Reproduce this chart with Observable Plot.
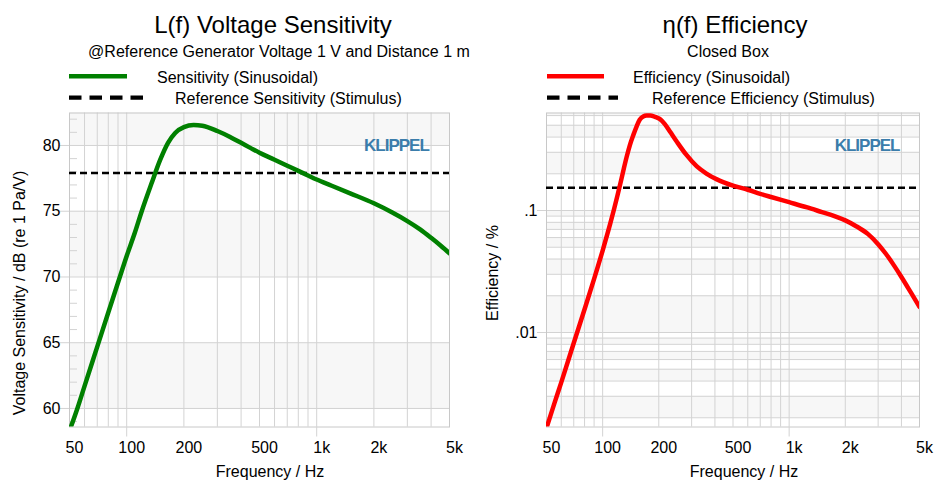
<!DOCTYPE html>
<html><head><meta charset="utf-8">
<script src="https://cdn.jsdelivr.net/npm/d3@7"></script>
<script src="https://cdn.jsdelivr.net/npm/@observablehq/plot@0.6"></script>
<style>
body{margin:0;background:#fff;font-family:"Liberation Sans",Arial,sans-serif;color:#000}
#root{position:relative;width:936px;height:482px;overflow:hidden}
#root svg.plot{position:absolute;top:100px}
#overlay{position:absolute;left:0;top:0;pointer-events:none}
</style></head><body><div id="root"></div>
<script>
// ---- data ----
const xDomain = [50, 5000];
const xTicks = [50, 100, 200, 500, 1000, 2000, 5000];
const xTickLabels = ["50", "100", "200", "500", "1k", "2k", "5k"];
const xDecades = [100, 1000];
const xGrid = [60,70,80,90,100,200,300,400,500,600,700,800,900,1000,2000,3000,4000];

const sensFreq = [50,55,60,70,80,92,100,110,120,135,150,165,180,200,225,250,300,350,400,450,500,600,700,800,900,1000,1200,1500,2000,2500,3000,3500,4000,4500,5000];
const sensValues = [58.3,60.0,61.7,64.7,67.3,70.0,71.6,73.3,75.0,77.1,78.9,80.2,80.95,81.4,81.55,81.5,81.1,80.65,80.2,79.8,79.45,78.92,78.46,78.07,77.72,77.41,76.94,76.36,75.6,74.9,74.25,73.62,72.98,72.38,71.8];
const sensRef = 77.9;
const sensDomain = [58.59, 82.47];
const sensMajor = [60, 65, 70, 75, 80];
const sensMinor = [59,61,62,63,64,66,67,68,69,71,72,73,74,76,77,78,79,81,82];
const sensBandLo = [80, 70, 60];
const sensBandHi = [82.47, 75, 65];

const effFreq = [50,55,60,70,80,90,100,110,115,120,125,130,135,140,146,152,158,165,172,180,188,195,203,215,230,250,280,320,360,410,500,600,700,800,1000,1250,1500,1750,2000,2300,2650,3000,3300,3670,4000,4500,5000];
const effValues = [0.00165,0.0026,0.0039,0.0082,0.0155,0.0275,0.047,0.0787,0.102,0.132,0.171,0.222,0.281,0.344,0.415,0.488,0.554,0.590,0.600,0.600,0.592,0.579,0.562,0.513,0.442,0.366,0.288,0.230,0.201,0.180,0.160,0.148,0.137,0.129,0.117,0.106,0.097,0.090,0.083,0.074,0.064,0.053,0.0442,0.035,0.0285,0.0212,0.0162];
const effRef = 0.154;
const effDomain = [0.00168, 0.63];
const effTicks = [0.01, 0.1];
const effTickLabels = [".01", ".1"];
const effGrid = [0.002,0.003,0.004,0.005,0.006,0.007,0.008,0.009,0.01,0.02,0.03,0.04,0.05,0.06,0.07,0.08,0.09,0.1,0.2,0.3,0.4,0.5,0.6];
const effBandLo = [0.6,0.4,0.2,0.09,0.07,0.05,0.03,0.01,0.008,0.006,0.004,0.002];
const effBandHi = [0.63,0.5,0.3,0.1,0.08,0.06,0.04,0.02,0.009,0.007,0.005,0.003];

// ---- style ----
const font = '"Liberation Sans", Arial, sans-serif';
const gridColor = "#d3d3d3";
const frameColor = "#c8c8c8";
const bandColor = "#f7f7f7";
const logoColor = "#3b7dab";

function makePlot({marginLeft, marginRight, yOpts, bandLo, bandHi, yGrid, minor, yTicks, yFmt, ref, data, color, logoDx}) {
  const bands = bandLo.map((lo, i) => ({lo, hi: bandHi[i]}));
  const marks = [
    Plot.rect(bands, {x1: () => xDomain[0], x2: () => xDomain[1], y1: "lo", y2: "hi", fill: bandColor}),
    Plot.ruleX(xGrid, {stroke: gridColor}),
    Plot.ruleY(yGrid, {stroke: gridColor}),
  ];
  if (minor) marks.push(Plot.axisY(minor, {tickSize: 8, dx: 8, tickFormat: () => "", stroke: gridColor}));
  marks.push(
    Plot.frame({stroke: frameColor}),
    Plot.axisY(yTicks, {tickSize: 9, tickPadding: 0, stroke: gridColor, fill: "#000", fontSize: 16, tickFormat: yFmt}),
    Plot.axisX(xDecades, {tickSize: 10, tickFormat: () => "", stroke: gridColor}),
    Plot.text(xTicks, {x: d => d, text: (d, i) => xTickLabels[i], frameAnchor: "bottom", lineAnchor: "top", dy: 15, dx: 5, fontSize: 16, fill: "#000"}),
    Plot.ruleY([ref], {stroke: "#000", strokeWidth: 2.5, strokeDasharray: "7,4"}),
    Plot.line(data, {x: "f", y: "v", stroke: color, strokeWidth: 4.5, curve: "monotone-x", clip: true}),
    Plot.text(["KLIPPEL"], {frameAnchor: "top-right", textAnchor: "end", dx: logoDx, dy: 26, fill: logoColor, fontSize: 17, fontWeight: "bold"})
  );
  const svg = Plot.plot({
    width: 468, height: 382,
    marginTop: 12.5, marginBottom: 55.5, marginLeft, marginRight,
    style: {fontFamily: font, fontSize: "16px", color: "#000", background: "transparent"},
    x: {type: "log", domain: xDomain, label: null},
    y: {...yOpts, label: null},
    marks
  });
  svg.classList.add("plot");
  svg.querySelectorAll("text").forEach(t => { if (t.textContent === "KLIPPEL") t.setAttribute("letter-spacing", "-1"); });
  return svg;
}

const root = document.getElementById("root");

const left = makePlot({
  marginLeft: 69, marginRight: 19,
  yOpts: {domain: sensDomain},
  bandLo: sensBandLo, bandHi: sensBandHi,
  yGrid: sensMajor, minor: sensMinor, yTicks: sensMajor, yFmt: d => String(d),
  ref: sensRef,
  data: sensFreq.map((f, i) => ({f, v: sensValues[i]})),
  color: "#008000", logoDx: -20.7
});
left.style.left = "0px";
root.appendChild(left);

const right = makePlot({
  marginLeft: 78, marginRight: 17,
  yOpts: {type: "log", domain: effDomain},
  bandLo: effBandLo, bandHi: effBandHi,
  yGrid: effGrid, minor: null, yTicks: effTicks, yFmt: d => effTickLabels[effTicks.indexOf(d)],
  ref: effRef,
  data: effFreq.map((f, i) => ({f, v: effValues[i]})),
  color: "#ff0000", logoDx: -20
});
right.style.left = "468px";
root.appendChild(right);

// ---- titles, legends, axis labels ----
const NS = "http://www.w3.org/2000/svg";
const ov = document.createElementNS(NS, "svg");
ov.setAttribute("id", "overlay");
ov.setAttribute("width", 936); ov.setAttribute("height", 482);
ov.setAttribute("font-family", font);
root.appendChild(ov);
function txt(s, x, y, size, anchor = "start", rot = 0) {
  const t = document.createElementNS(NS, "text");
  t.textContent = s;
  t.setAttribute("x", x); t.setAttribute("y", y);
  t.setAttribute("font-size", size);
  t.setAttribute("text-anchor", anchor);
  t.setAttribute("fill", "#000");
  if (rot) t.setAttribute("transform", `rotate(${rot},${x},${y})`);
  ov.appendChild(t);
}
function seg(x1, x2, y, color, w, dash) {
  const l = document.createElementNS(NS, "line");
  l.setAttribute("x1", x1); l.setAttribute("x2", x2);
  l.setAttribute("y1", y); l.setAttribute("y2", y);
  l.setAttribute("stroke", color); l.setAttribute("stroke-width", w);
  if (dash) l.setAttribute("stroke-dasharray", dash);
  ov.appendChild(l);
}
txt("L(f) Voltage Sensitivity", 273, 33, 24, "middle");
txt("@Reference Generator Voltage 1 V and Distance 1 m", 279, 57, 16, "middle");
seg(69, 127, 76.3, "#008000", 4.5);
txt("Sensitivity (Sinusoidal)", 157, 83, 16);
seg(69, 143, 97.7, "#000", 4.3, "12.5,8");
txt("Reference Sensitivity (Stimulus)", 175, 104, 16);
txt("Frequency / Hz", 270, 477, 16, "middle");
txt("Voltage Sensitivity / dB (re 1 Pa/V)", 25, 293, 16, "middle", -90);

txt("η(f) Efficiency", 735, 33, 24, "middle");
txt("Closed Box", 728, 57, 16, "middle");
seg(547, 604, 76.3, "#ff0000", 4.5);
txt("Efficiency (Sinusoidal)", 633, 83, 16);
seg(547, 618, 97.7, "#000", 4.3, "12.5,8");
txt("Reference Efficiency (Stimulus)", 652, 104, 16);
txt("Frequency / Hz", 744, 477, 16, "middle");
txt("Efficiency / %", 498, 273, 16, "middle", -90);
</script>
</body></html>
